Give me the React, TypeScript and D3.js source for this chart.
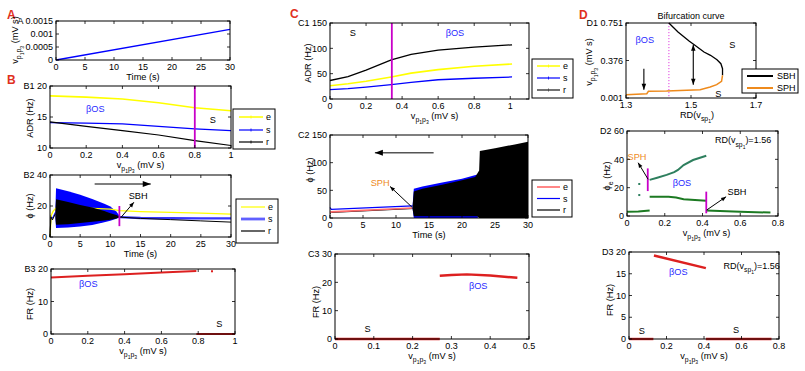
import React from "react";
import * as d3 from "d3";

const FONT = "'Liberation Sans', Arial, Helvetica, sans-serif";
const TFS = 9; // tick font size
const LFS = 9.2; // label font size

const YEL = "#ffff00";
const BLU = "#0000ff";
const MAG = "#c800c8";
const RED = "#dd2020";
const ORA = "#ee8a1c";
const GRN1 = "#2e7f5e";
const GRN2 = "#1c7a22";

// ---------------- DATA ----------------
// A
const aTime = [0, 30];
const aRate = [0, 0.00118];
const aXTicks = [0, 5, 10, 15, 20, 25, 30];
const aXLabels = ["0", "5", "10", "15", "20", "25", "30"];
const aYTicks = [0, 0.0005, 0.001, 0.0015];
const aYLabels = ["0", "0.0005", "0.001", "0.0015"];

// B1
const b1V = [0, 0.2, 0.4, 0.6, 0.8, 1];
const b1E = [18.4, 18.2, 17.9, 17.3, 16.5, 16.0];
const b1S = [14.1, 14.0, 13.9, 13.5, 13.1, 12.8];
const b1R = [14.2, 13.5, 12.8, 12.1, 11.2, 10.4];
const b1Bif = 0.8;
const unitTicks = [0, 0.2, 0.4, 0.6, 0.8, 1];
const unitLabels = ["0", "0.2", "0.4", "0.6", "0.8", "1"];
const b1YTicks = [10, 15, 20];
const b1YLabels = ["10", "15", "20"];

// B2
const b2PreT = [0, 0.15, 0.4, 0.9];
const b2PreS = [0, 14, 12, 16];
const b2PreR = [0, 13, 11, 15];
const b2ET = [0, 0.2, 0.5, 1.2, 5, 10, 11.6, 15, 20, 25, 30];
const b2E = [0, 14, 16.5, 19.5, 18.8, 18, 17, 16.4, 15.9, 15.4, 14.8];
const b2EnvT = [0.9, 1, 3, 5, 7, 9, 10, 11, 11.6];
const b2BlueHi = [18, 31.5, 29.5, 27.2, 24.5, 21.5, 19.6, 16.5, 13.2];
const b2BlueLo = [12, 5.8, 6.2, 6.8, 7.8, 9.5, 10.5, 11.8, 12.8];
const b2BlackHi = [17, 24.4, 22.6, 20.7, 19, 16.8, 15.4, 14.2, 13.0];
const b2BlackLo = [12.5, 7.9, 8.3, 9, 9.8, 10.6, 11.1, 12, 12.9];
const b2PostT = [11.6, 15, 20, 25, 30];
const b2PostS = [12.8, 12.3, 12.1, 12.0, 12.0];
const b2PostR = [12.8, 12.0, 11.2, 10.4, 9.6];
const b2Bif = 11.5;
const b2BifRange = [7, 20];
const b2YTicks = [0, 20, 40];
const b2YLabels = ["0", "20", "40"];

// B3
const b3V = [0, 0.2, 0.4, 0.6, 0.79];
const b3FR = [17.4, 17.9, 18.4, 18.9, 19.4];
const b3DotV = [0.875];
const b3DotFR = [19.3];
const b3SV = [0.79, 1];
const b3SFR = [0, 0];
const b3YTicks = [0, 10, 20];
const b3YLabels = ["0", "10", "20"];

// C1
const c1V = [0, 0.1, 0.2, 0.34, 0.45, 0.6, 0.8, 1.01];
const c1R = [36.5, 44, 57, 77, 88, 96.5, 102.5, 107];
const c1E = [26, 30, 35, 43.5, 51, 58, 64.5, 69];
const c1S = [18.5, 20.5, 23.5, 28.5, 33, 38, 41, 43.5];
const c1Bif = 0.343;
const c1YTicks = [0, 50, 100, 150];
const c1YLabels = ["0", "50", "100", "150"];

// C2
const c2PreT = [0, 0.2, 12.5];
const c2PreE = [10, 11, 18];
const c2PreS = [19, 15.5, 22];
const c2PreR = [8, 10, 17];
const c2BlueT = [12.5, 12.7, 14, 17, 20, 22.2, 22.4];
const c2BlueHi = [20, 53, 57, 64, 71, 78, 78];
const c2BlueLo = [18, 0, 0, 0, 0, 0, 0];
const c2BlackT = [12.5, 12.7, 14, 17, 20, 22.0, 22.3, 22.6, 22.7, 25, 28, 30];
const c2BlackHi = [19, 48, 53, 60, 68, 74, 80, 86, 121, 126, 133, 138];
const c2BlackLo = [17, 3, 3, 3, 3, 3, 3, 0, 0, 0, 0, 0];

// C3
const c3SV = [0, 0.27];
const c3SFR = [0, 0];
const c3OV = [0.27, 0.3, 0.34, 0.4, 0.47];
const c3OFR = [22.3, 22.6, 22.8, 22.4, 21.6];
const c3XTicks = [0, 0.1, 0.2, 0.3, 0.4, 0.5];
const c3XLabels = ["0", "0.1", "0.2", "0.3", "0.4", "0.5"];
const c3YTicks = [0, 10, 20, 30];
const c3YLabels = ["0", "10", "20", "30"];

// D1
const d1SbhRD = [1.432, 1.46, 1.495, 1.51, 1.54, 1.56, 1.58, 1.592, 1.597, 1.597];
const d1SbhV = [0.751, 0.661, 0.568, 0.534, 0.461, 0.428, 0.384, 0.344, 0.294, 0.228];
const d1SphRD = [1.3, 1.364, 1.369, 1.425, 1.487, 1.528, 1.559, 1.579, 1.594, 1.597];
const d1SphV = [0.034, 0.044, 0.068, 0.07, 0.078, 0.084, 0.111, 0.134, 0.168, 0.228];
const d1Dotted = 1.432;
const d1XTicks = [1.3, 1.5, 1.7];
const d1XLabels = ["1.3", "1.5", "1.7"];
const d1YTicks = [0.001, 0.376, 0.751];
const d1YLabels = ["0.001", "0.376", "0.751"];

// D2
const d2LowV = [0, 0.06, 0.12];
const d2LowP = [3, 3.2, 3.8];
const d2DotV = [0.065, 0.065];
const d2DotP = [22.6, 14.8];
const d2UpV = [0.12, 0.16, 0.21, 0.25, 0.27, 0.3, 0.35, 0.42];
const d2UpP = [25.5, 27, 29, 31, 32.5, 36, 39.5, 42.5];
const d2MidV = [0.12, 0.22, 0.26, 0.3, 0.42];
const d2MidP = [13.6, 13.6, 13, 11.8, 10.8];
const d2RightV = [0.42, 0.6, 0.76];
const d2RightP = [3.8, 3, 2.4];
const d2Sph = 0.11;
const d2SphRange = [17.6, 33.6];
const d2Sbh = 0.42;
const d2SbhRange = [1.9, 17.2];
const d08Ticks = [0, 0.2, 0.4, 0.6, 0.8];
const d08Labels = ["0", "0.2", "0.4", "0.6", "0.8"];
const d2YTicks = [0, 20, 40, 60];
const d2YLabels = ["0", "20", "40", "60"];

// D3
const d3OV = [0.133, 0.41];
const d3OFR = [19.2, 16.3];
const d3S1V = [0, 0.13];
const d3S2V = [0.41, 0.76];
const d3Zero = [0, 0];
const d3YTicks = [0, 5, 10, 15, 20];
const d3YLabels = ["0", "5", "10", "15", "20"];

const t30Ticks = [0, 5, 10, 15, 20, 25, 30];
const t30Labels = ["0", "5", "10", "15", "20", "25", "30"];

// ---------------- HELPERS ----------------
type Box = { l: number; r: number; t: number; b: number };
type Sc = d3.ScaleLinear<number, number>;

const TICK_DY = 10;
const XLAB_DY = 19.5;

function mk(box: Box, xd: number[], yd: number[]) {
  return {
    box,
    sx: d3.scaleLinear().domain(xd).range([box.l, box.r]),
    sy: d3.scaleLinear().domain(yd).range([box.b, box.t]),
  };
}
function lp(sx: Sc, sy: Sc, xs: number[], ys: number[]) {
  return (
    d3
      .line<number>()
      .x((_, i) => sx(xs[i]))
      .y((d) => sy(d))(ys) || ""
  );
}
function ap(sx: Sc, sy: Sc, xs: number[], lo: number[], hi: number[]) {
  return (
    d3
      .area<number>()
      .x((_, i) => sx(xs[i]))
      .y0((_, i) => sy(lo[i]))
      .y1((d) => sy(d))(hi) || ""
  );
}

function Frame(props: {
  p: { box: Box; sx: Sc; sy: Sc };
  xt: number[];
  xl: string[];
  yt: number[];
  yl: string[];
  tag: string;
}) {
  const { p, xt, xl, yt, yl, tag } = props;
  const { box, sx, sy } = p;
  const tl = 3;
  return (
    <g fontFamily={FONT} fontSize={TFS} fill="#000">
      {xt.map((v, i) => (
        <g key={"x" + i}>
          <line x1={sx(v)} x2={sx(v)} y1={box.b} y2={box.b - tl} stroke="#000" strokeWidth={0.8} />
          <line x1={sx(v)} x2={sx(v)} y1={box.t} y2={box.t + tl} stroke="#000" strokeWidth={0.8} />
          <text x={sx(v)} y={box.b + TICK_DY} textAnchor="middle">
            {xl[i]}
          </text>
        </g>
      ))}
      {yt.map((v, i) => (
        <g key={"y" + i}>
          <line x1={box.l} x2={box.l + tl} y1={sy(v)} y2={sy(v)} stroke="#000" strokeWidth={0.8} />
          <line x1={box.r} x2={box.r - tl} y1={sy(v)} y2={sy(v)} stroke="#000" strokeWidth={0.8} />
          <text x={box.l - 3} y={sy(v) + 3.2} textAnchor="end" style={{ whiteSpace: "pre" }}>
            {i === yt.length - 1 ? tag + " " + yl[i] : yl[i]}
          </text>
        </g>
      ))}
      <rect
        x={box.l}
        y={box.t}
        width={box.r - box.l}
        height={box.b - box.t}
        fill="none"
        stroke="#000"
        strokeWidth={1}
      />
    </g>
  );
}

function vSub(fs: number, unit = " (mV s)") {
  return [
    <tspan key="a">v</tspan>,
    <tspan key="b" dy={fs * 0.35} fontSize={fs * 0.75}>
      p
    </tspan>,
    <tspan key="c" dy={fs * 0.25} fontSize={fs * 0.55}>
      1
    </tspan>,
    <tspan key="d" dy={-fs * 0.25} fontSize={fs * 0.75}>
      p
    </tspan>,
    <tspan key="e" dy={fs * 0.25} fontSize={fs * 0.55}>
      3
    </tspan>,
    <tspan key="f" dy={-fs * 0.6} fontSize={fs}>
      {unit}
    </tspan>,
  ];
}
function rdSub(fs: number, tail = ")") {
  return [
    <tspan key="a">RD(v</tspan>,
    <tspan key="b" dy={fs * 0.35} fontSize={fs * 0.75}>
      sp
    </tspan>,
    <tspan key="c" dy={fs * 0.25} fontSize={fs * 0.55}>
      1
    </tspan>,
    <tspan key="d" dy={-fs * 0.6} fontSize={fs}>
      {tail}
    </tspan>,
  ];
}

function YLab({ x, y, children }: { x: number; y: number; children: React.ReactNode }) {
  return (
    <text
      x={0}
      y={0}
      transform={`translate(${x},${y}) rotate(-90)`}
      textAnchor="middle"
      fontFamily={FONT}
      fontSize={LFS}
      style={{ whiteSpace: "pre" }}
    >
      {children}
    </text>
  );
}
function XLab({ x, y, children }: { x: number; y: number; children: React.ReactNode }) {
  return (
    <text x={x} y={y} textAnchor="middle" fontFamily={FONT} fontSize={LFS} style={{ whiteSpace: "pre" }}>
      {children}
    </text>
  );
}
function Txt(props: { x: number; y: number; c?: string; fs?: number; anchor?: string; children: React.ReactNode }) {
  return (
    <text
      x={props.x}
      y={props.y + 3.3}
      fill={props.c || "#000"}
      fontFamily={FONT}
      fontSize={props.fs || LFS}
      textAnchor={(props.anchor as any) || "middle"}
      style={{ whiteSpace: "pre" }}
    >
      {props.children}
    </text>
  );
}

function Arrow(props: {
  x1: number;
  y1: number;
  x2: number;
  y2: number;
  stroke?: string;
  sw?: number;
  hl?: number;
  hw?: number;
  both?: boolean;
}) {
  const { x1, y1, x2, y2 } = props;
  const stroke = props.stroke || "#000";
  const sw = props.sw || 1;
  const hl = props.hl || 6;
  const hw = props.hw || 4.5;
  const head = (xt: number, yt: number, a: number) => {
    const bx = xt - hl * Math.cos(a);
    const by = yt - hl * Math.sin(a);
    const px = (-Math.sin(a) * hw) / 2;
    const py = (Math.cos(a) * hw) / 2;
    return `${xt},${yt} ${bx + px},${by + py} ${bx - px},${by - py}`;
  };
  const a = Math.atan2(y2 - y1, x2 - x1);
  return (
    <g>
      <line x1={x1} y1={y1} x2={x2} y2={y2} stroke={stroke} strokeWidth={sw} />
      <polygon points={head(x2, y2, a)} fill="#000" />
      {props.both ? <polygon points={head(x1, y1, a + Math.PI)} fill="#000" /> : null}
    </g>
  );
}

type LegItem = { label: string; color: string; w: number; marker?: boolean };
function Legend(props: { box: Box; ys: number[]; lx: [number, number]; tx: number; items: LegItem[]; fs?: number }) {
  const { box, ys, lx, tx, items } = props;
  return (
    <g fontFamily={FONT} fontSize={props.fs || TFS}>
      <rect x={box.l} y={box.t} width={box.r - box.l} height={box.b - box.t} fill="#fff" stroke="#000" strokeWidth={1} />
      {items.map((it, i) => (
        <g key={i}>
          <line x1={lx[0]} x2={lx[1]} y1={ys[i]} y2={ys[i]} stroke={it.color} strokeWidth={it.w} />
          {it.marker ? (
            <line
              x1={(lx[0] + lx[1]) / 2}
              x2={(lx[0] + lx[1]) / 2}
              y1={ys[i] - 1.5}
              y2={ys[i] + 1.5}
              stroke={it.color}
              strokeWidth={0.8}
            />
          ) : null}
          <text x={tx} y={ys[i] + 3.2}>
            {it.label}
          </text>
        </g>
      ))}
    </g>
  );
}

// ---------------- APP ----------------
export default function App() {
  const A = mk({ l: 56, r: 230, t: 21, b: 60 }, [0, 30], [0, 0.0015]);
  const B1 = mk({ l: 50, r: 231, t: 86, b: 148 }, [0, 1], [10, 20]);
  const B2 = mk({ l: 50, r: 231, t: 175, b: 237 }, [0, 30], [0, 40]);
  const B3 = mk({ l: 51, r: 235, t: 269, b: 334 }, [0, 1], [0, 20]);
  const C1 = mk({ l: 330, r: 529, t: 23, b: 99 }, [0, 1.104], [0, 150]);
  const C2 = mk({ l: 330, r: 528, t: 135, b: 218 }, [0, 30], [0, 150]);
  const C3 = mk({ l: 335, r: 529, t: 254, b: 339 }, [0, 0.5], [0, 30]);
  const D1 = mk({ l: 626, r: 756, t: 23, b: 98 }, [1.3, 1.7], [0.001, 0.751]);
  const D2 = mk({ l: 627, r: 778, t: 131, b: 216 }, [0, 0.8], [0, 60]);
  const D3 = mk({ l: 629, r: 779, t: 252, b: 339 }, [0, 0.8], [0, 20]);

  const cx = (p: { box: Box }) => (p.box.l + p.box.r) / 2;

  return (
    <svg
      width={805}
      height={371}
      style={{ position: "absolute", left: 0, top: 0, display: "block" }}
      fontFamily={FONT}
    >
      <rect width={805} height={371} fill="#fff" />

      {/* panel letters */}
      <g fontFamily={FONT} fontSize={12} fontWeight="bold" fill="#e0301e">
        <text x={7} y={19}>A</text>
        <text x={7} y={84}>B</text>
        <text x={290} y={18}>C</text>
        <text x={579} y={18.5}>D</text>
      </g>

      {/* ---------- A ---------- */}
      <path d={lp(A.sx, A.sy, aTime, aRate)} stroke={BLU} strokeWidth={1.3} fill="none" />
      <Frame p={A} xt={aXTicks} xl={aXLabels} yt={aYTicks} yl={aYLabels} tag="A" />
      <XLab x={cx(A)} y={A.box.b + XLAB_DY}>Time (s)</XLab>
      <YLab x={18} y={40}>{vSub(LFS)}</YLab>

      {/* ---------- B1 ---------- */}
      <path d={lp(B1.sx, B1.sy, b1V, b1E)} stroke={YEL} strokeWidth={1.6} fill="none" />
      <path d={lp(B1.sx, B1.sy, b1V, b1S)} stroke={BLU} strokeWidth={1.3} fill="none" />
      <path d={lp(B1.sx, B1.sy, b1V, b1R)} stroke="#000" strokeWidth={1.2} fill="none" />
      <line x1={B1.sx(b1Bif)} x2={B1.sx(b1Bif)} y1={B1.box.t} y2={B1.box.b} stroke={MAG} strokeWidth={1.8} />
      <Txt x={B1.sx(0.25)} y={B1.sy(16.3)} c="#2a2aff">βOS</Txt>
      <Txt x={B1.sx(0.9)} y={B1.sy(14.6)}>S</Txt>
      <Frame p={B1} xt={unitTicks} xl={unitLabels} yt={b1YTicks} yl={b1YLabels} tag="B1" />
      <XLab x={cx(B1)} y={B1.box.b + XLAB_DY}>{vSub(LFS)}</XLab>
      <YLab x={33} y={118}>ADR (Hz)</YLab>
      <Legend
        box={{ l: 233, r: 275, t: 109, b: 149 }}
        ys={[117, 130, 142]}
        lx={[239, 263]}
        tx={266}
        items={[
          { label: "e", color: YEL, w: 1.5, marker: true },
          { label: "s", color: BLU, w: 1.2, marker: true },
          { label: "r", color: "#000", w: 1.2, marker: true },
        ]}
      />

      {/* ---------- B2 ---------- */}
      <path d={lp(B2.sx, B2.sy, b2PreT, b2PreS)} stroke={BLU} strokeWidth={1} fill="none" />
      <path d={ap(B2.sx, B2.sy, b2EnvT, b2BlueLo, b2BlueHi)} fill={BLU} />
      <path d={lp(B2.sx, B2.sy, b2ET, b2E)} stroke={YEL} strokeWidth={1.3} fill="none" />
      <path d={lp(B2.sx, B2.sy, b2PreT, b2PreR)} stroke="#000" strokeWidth={1} fill="none" />
      <path d={ap(B2.sx, B2.sy, b2EnvT, b2BlackLo, b2BlackHi)} fill="#000" />
      <path d={lp(B2.sx, B2.sy, b2PostT, b2PostS)} stroke="#3535ff" strokeWidth={2.4} fill="none" />
      <path d={lp(B2.sx, B2.sy, b2PostT, b2PostR)} stroke="#000" strokeWidth={1} fill="none" />
      <line
        x1={B2.sx(b2Bif)}
        x2={B2.sx(b2Bif)}
        y1={B2.sy(b2BifRange[0])}
        y2={B2.sy(b2BifRange[1])}
        stroke={MAG}
        strokeWidth={1.8}
      />
      <Arrow x1={B2.sx(7.4)} y1={B2.sy(34.2)} x2={B2.sx(16.7)} y2={B2.sy(34.2)} stroke="#555" sw={1.5} hl={8} hw={6} />
      <Arrow x1={B2.sx(11.8)} y1={B2.sy(12.8)} x2={B2.sx(13.9)} y2={B2.sy(22.4)} sw={1} hl={5} hw={4} />
      <Txt x={B2.sx(14.6)} y={B2.sy(26.5)}>SBH</Txt>
      <Frame p={B2} xt={t30Ticks} xl={t30Labels} yt={b2YTicks} yl={b2YLabels} tag="B2" />
      <XLab x={cx(B2)} y={B2.box.b + XLAB_DY}>Time (s)</XLab>
      <YLab x={33} y={206}>ϕ (Hz)</YLab>
      <Legend
        box={{ l: 236, r: 278, t: 199, b: 243 }}
        ys={[207, 219, 231]}
        lx={[241, 265]}
        tx={268}
        items={[
          { label: "e", color: YEL, w: 1.2 },
          { label: "s", color: "#6060ff", w: 2.8 },
          { label: "r", color: "#000", w: 1.2 },
        ]}
      />

      {/* ---------- B3 ---------- */}
      <path d={lp(B3.sx, B3.sy, b3V, b3FR)} stroke={RED} strokeWidth={2} fill="none" />
      {b3DotV.map((v, i) => (
        <rect key={i} x={B3.sx(v) - 1} y={B3.sy(b3DotFR[i]) - 1} width={2} height={2} fill={RED} />
      ))}
      <path d={lp(B3.sx, B3.sy, b3SV, b3SFR)} stroke={RED} strokeWidth={2.2} fill="none" />
      <Txt x={B3.sx(0.203)} y={B3.sy(15.4)} c="#2a2aff">βOS</Txt>
      <Txt x={B3.sx(0.915)} y={B3.sy(3.1)}>S</Txt>
      <Frame p={B3} xt={unitTicks} xl={unitLabels} yt={b3YTicks} yl={b3YLabels} tag="B3" />
      <XLab x={cx(B3)} y={B3.box.b + XLAB_DY}>{vSub(LFS)}</XLab>
      <YLab x={33} y={304}>FR (Hz)</YLab>

      {/* ---------- C1 ---------- */}
      <path d={lp(C1.sx, C1.sy, c1V, c1E)} stroke={YEL} strokeWidth={1.6} fill="none" />
      <path d={lp(C1.sx, C1.sy, c1V, c1S)} stroke={BLU} strokeWidth={1.3} fill="none" />
      <path d={lp(C1.sx, C1.sy, c1V, c1R)} stroke="#000" strokeWidth={1.3} fill="none" />
      <line x1={C1.sx(c1Bif)} x2={C1.sx(c1Bif)} y1={C1.box.t} y2={C1.box.b} stroke={MAG} strokeWidth={1.8} />
      <Txt x={C1.sx(0.126)} y={C1.sy(130)}>S</Txt>
      <Txt x={C1.sx(0.693)} y={C1.sy(130)} c="#2a2aff">βOS</Txt>
      <Frame p={C1} xt={unitTicks} xl={unitLabels} yt={c1YTicks} yl={c1YLabels} tag="C1" />
      <XLab x={C1.sx(0.58)} y={C1.box.b + XLAB_DY}>{vSub(LFS)}</XLab>
      <YLab x={311} y={63}>ADR (Hz)</YLab>
      <Legend
        box={{ l: 532, r: 573, t: 59, b: 98 }}
        ys={[66, 78, 90]}
        lx={[537, 560]}
        tx={563}
        items={[
          { label: "e", color: YEL, w: 1.5, marker: true },
          { label: "s", color: BLU, w: 1.2, marker: true },
          { label: "r", color: "#444", w: 1.5, marker: true },
        ]}
      />

      {/* ---------- C2 ---------- */}
      <path d={lp(C2.sx, C2.sy, c2PreT, c2PreR)} stroke="#000" strokeWidth={1} fill="none" />
      <path d={lp(C2.sx, C2.sy, c2PreT, c2PreE)} stroke="#ff6a6a" strokeWidth={1.6} fill="none" />
      <path d={lp(C2.sx, C2.sy, c2PreT, c2PreS)} stroke={BLU} strokeWidth={1.2} fill="none" />
      <path d={ap(C2.sx, C2.sy, c2BlueT, c2BlueLo, c2BlueHi)} fill={BLU} />
      <path d={ap(C2.sx, C2.sy, c2BlackT, c2BlackLo, c2BlackHi)} fill="#000" />
      <Arrow x1={C2.sx(15.7)} y1={C2.sy(118)} x2={C2.sx(6.8)} y2={C2.sy(118)} stroke="#555" sw={1.5} hl={8} hw={6} />
      <Arrow x1={C2.sx(12.4)} y1={C2.sy(19.8)} x2={C2.sx(9.1)} y2={C2.sy(57)} sw={1} hl={5} hw={4} />
      <Txt x={C2.sx(7.6)} y={C2.sy(64)} c={ORA}>SPH</Txt>
      <Frame p={C2} xt={t30Ticks} xl={t30Labels} yt={c1YTicks} yl={c1YLabels} tag="C2" />
      <XLab x={cx(C2)} y={C2.box.b + XLAB_DY}>Time (s)</XLab>
      <YLab x={313} y={170}>ϕ (Hz)</YLab>
      <Legend
        box={{ l: 532, r: 572, t: 180, b: 217 }}
        ys={[187, 198.5, 210]}
        lx={[537, 560]}
        tx={563}
        items={[
          { label: "e", color: "#ff6a6a", w: 1.6 },
          { label: "s", color: BLU, w: 1.2 },
          { label: "r", color: "#000", w: 1.2 },
        ]}
      />

      {/* ---------- C3 ---------- */}
      <path d={lp(C3.sx, C3.sy, c3SV, c3SFR)} stroke={RED} strokeWidth={2.4} fill="none" />
      <path d={lp(C3.sx, C3.sy, c3OV, c3OFR)} stroke={RED} strokeWidth={2.4} fill="none" />
      <Txt x={C3.sx(0.369)} y={C3.sy(18.7)} c="#2a2aff">βOS</Txt>
      <Txt x={C3.sx(0.084)} y={C3.sy(3.5)}>S</Txt>
      <Frame p={C3} xt={c3XTicks} xl={c3XLabels} yt={c3YTicks} yl={c3YLabels} tag="C3" />
      <XLab x={cx(C3)} y={C3.box.b + XLAB_DY}>{vSub(LFS)}</XLab>
      <YLab x={319} y={302}>FR (Hz)</YLab>

      {/* ---------- D1 ---------- */}
      <line
        x1={D1.sx(d1Dotted)}
        x2={D1.sx(d1Dotted)}
        y1={D1.box.t}
        y2={D1.box.b}
        stroke="#e040e0"
        strokeWidth={1}
        strokeDasharray="1.2,1.8"
      />
      <path d={lp(D1.sx, D1.sy, d1SbhRD, d1SbhV)} stroke="#000" strokeWidth={1.3} fill="none" />
      <path d={lp(D1.sx, D1.sy, d1SphRD, d1SphV)} stroke={ORA} strokeWidth={1.5} fill="none" />
      <Arrow x1={D1.sx(1.355)} y1={D1.sy(0.294)} x2={D1.sx(1.355)} y2={D1.sy(0.084)} sw={1.1} hl={6} hw={4.5} />
      <Arrow x1={D1.sx(1.507)} y1={D1.sy(0.534)} x2={D1.sx(1.507)} y2={D1.sy(0.134)} sw={1.1} hl={6} hw={4.5} both />
      <Txt x={D1.sx(1.358)} y={D1.sy(0.581)} c="#2a2aff">βOS</Txt>
      <Txt x={D1.sx(1.627)} y={D1.sy(0.538)}>S</Txt>
      <Txt x={D1.sx(1.584)} y={D1.sy(0.04)}>S</Txt>
      <text x={cx(D1)} y={19} textAnchor="middle" fontFamily={FONT} fontSize={9}>
        Bifurcation curve
      </text>
      <Frame p={D1} xt={d1XTicks} xl={d1XLabels} yt={d1YTicks} yl={d1YLabels} tag="D1" />
      <XLab x={cx(D1) + 6} y={D1.box.b + XLAB_DY}>{rdSub(LFS)}</XLab>
      <YLab x={592} y={62}>{vSub(LFS)}</YLab>
      <Legend
        box={{ l: 742, r: 798, t: 69, b: 93 }}
        ys={[76, 88]}
        lx={[747, 773]}
        tx={777}
        items={[
          { label: "SBH", color: "#000", w: 2 },
          { label: "SPH", color: ORA, w: 2 },
        ]}
      />

      {/* ---------- D2 ---------- */}
      <path d={lp(D2.sx, D2.sy, d2LowV, d2LowP)} stroke={GRN2} strokeWidth={2} fill="none" />
      {d2DotV.map((v, i) => (
        <rect key={i} x={D2.sx(v) - 1} y={D2.sy(d2DotP[i]) - 1} width={2} height={2} fill={GRN1} />
      ))}
      <path d={lp(D2.sx, D2.sy, d2UpV, d2UpP)} stroke={GRN1} strokeWidth={2} fill="none" />
      <path d={lp(D2.sx, D2.sy, d2MidV, d2MidP)} stroke={GRN2} strokeWidth={2} fill="none" />
      <path d={lp(D2.sx, D2.sy, d2RightV, d2RightP)} stroke={GRN2} strokeWidth={2} fill="none" />
      <line
        x1={D2.sx(d2Sph)}
        x2={D2.sx(d2Sph)}
        y1={D2.sy(d2SphRange[0])}
        y2={D2.sy(d2SphRange[1])}
        stroke={MAG}
        strokeWidth={1.8}
      />
      <line
        x1={D2.sx(d2Sbh)}
        x2={D2.sx(d2Sbh)}
        y1={D2.sy(d2SbhRange[0])}
        y2={D2.sy(d2SbhRange[1])}
        stroke={MAG}
        strokeWidth={1.8}
      />
      <Arrow x1={D2.sx(0.112)} y1={D2.sy(25.9)} x2={D2.sx(0.059)} y2={D2.sy(37.6)} sw={1} hl={5} hw={4} />
      <Arrow x1={D2.sx(0.422)} y1={D2.sy(4.2)} x2={D2.sx(0.525)} y2={D2.sy(13.6)} sw={1} hl={5} hw={4} />
      <Txt x={D2.sx(0.053)} y={D2.sy(41.6)} c={ORA}>SPH</Txt>
      <Txt x={D2.sx(0.583)} y={D2.sy(17.2)}>SBH</Txt>
      <Txt x={D2.sx(0.291)} y={D2.sy(23.3)} c="#2a2aff">βOS</Txt>
      <Txt x={D2.sx(0.615)} y={D2.sy(53.6)} fs={9}>{rdSub(9, ")=1.56")}</Txt>
      <Frame p={D2} xt={d08Ticks} xl={d08Labels} yt={d2YTicks} yl={d2YLabels} tag="D2" />
      <XLab x={cx(D2) + 4} y={D2.box.b + XLAB_DY}>{vSub(LFS)}</XLab>
      <YLab x={610} y={176}>
        <tspan>ϕ</tspan>
        <tspan dy={3} fontSize={7}>e</tspan>
        <tspan dy={-3} fontSize={LFS}>{" (Hz)"}</tspan>
      </YLab>

      {/* ---------- D3 ---------- */}
      <path d={lp(D3.sx, D3.sy, d3OV, d3OFR)} stroke={RED} strokeWidth={2.4} fill="none" />
      <path d={lp(D3.sx, D3.sy, d3S1V, d3Zero)} stroke={RED} strokeWidth={2.4} fill="none" />
      <path d={lp(D3.sx, D3.sy, d3S2V, d3Zero)} stroke={RED} strokeWidth={2.4} fill="none" />
      <Txt x={D3.sx(0.263)} y={D3.sy(15.5)} c="#2a2aff">βOS</Txt>
      <Txt x={D3.sx(0.068)} y={D3.sy(1.9)}>S</Txt>
      <Txt x={D3.sx(0.571)} y={D3.sy(2.1)}>S</Txt>
      <Txt x={D3.sx(0.654)} y={D3.sy(16.85)} fs={9}>{rdSub(9, ")=1.56")}</Txt>
      <Frame p={D3} xt={d08Ticks} xl={d08Labels} yt={d3YTicks} yl={d3YLabels} tag="D3" />
      <XLab x={cx(D3)} y={D3.box.b + XLAB_DY}>{vSub(LFS)}</XLab>
      <YLab x={613} y={300}>FR (Hz)</YLab>
    </svg>
  );
}
